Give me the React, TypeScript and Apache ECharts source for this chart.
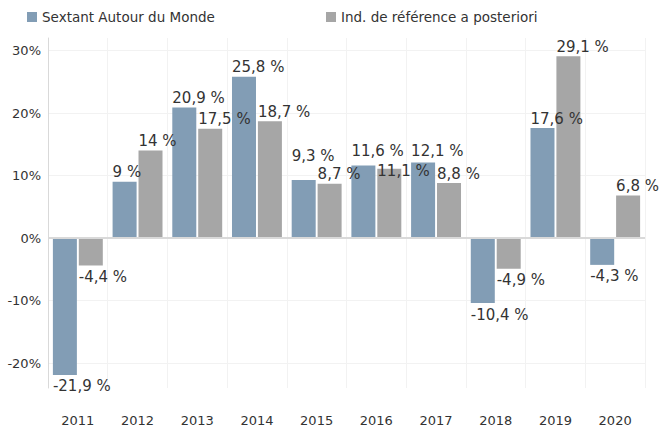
import React, { useEffect, useRef } from "react";
import * as echarts from "echarts";

const categories = ["2011", "2012", "2013", "2014", "2015", "2016", "2017", "2018", "2019", "2020"];
const sextant = [-21.9, 9, 20.9, 25.8, 9.3, 11.6, 12.1, -10.4, 17.6, -4.3];
const reference = [-4.4, 14, 17.5, 18.7, 8.7, 11.1, 8.8, -4.9, 29.1, 6.8];
const seriesNames = ["Sextant Autour du Monde", "Ind. de référence a posteriori"];
const colors = ["#829db5", "#a6a6a6"];

// label collision nudges (vertical, px), as in the reference
const sextantLabelNudge = [0, 0, 0, 0, -14, -5, -2, 0, 0, 0];
const referenceLabelNudge = [0, 0, 0, 0, 0, 12, 0, 0, 0, 0];

const FONT = "DejaVu Sans";

function fmt(v: number) {
  return String(v).replace(".", ",") + " %";
}

function makeData(values: number[], nudge: number[]) {
  return values.map((v, i) => ({
    value: v,
    label:
      v >= 0
        ? { position: [0, -2], offset: [0, nudge[i]], align: "left", verticalAlign: "bottom" }
        : { position: [0, "100%"], offset: [0, 4 + nudge[i]], align: "left", verticalAlign: "top" },
  }));
}

export default function App() {
  const ref = useRef<HTMLDivElement>(null);
  useEffect(() => {
    if (!ref.current) return;
    const chart = echarts.init(ref.current, null, { renderer: "svg" });
    const labelCfg = {
      show: true,
      fontFamily: FONT,
      fontSize: 15,
      color: "#333",
      formatter: (p: any) => fmt(p.value),
    };
    const legendText = { fontFamily: FONT, fontSize: 13.5, color: "#333" };
    chart.setOption({
      animation: false,
      textStyle: { fontFamily: FONT },
      legend: [
        {
          data: [seriesNames[0]],
          left: 27,
          top: 10,
          padding: 0,
          itemWidth: 10,
          itemHeight: 10,
          icon: "rect",
          textStyle: legendText,
        },
        {
          data: [seriesNames[1]],
          left: 326,
          top: 10,
          padding: 0,
          itemWidth: 10,
          itemHeight: 10,
          icon: "rect",
          textStyle: legendText,
        },
      ],
      grid: { left: 48, right: 14, top: 38, bottom: 39, containLabel: false },
      xAxis: {
        type: "category",
        data: categories,
        axisLine: { show: false, onZero: false },
        axisTick: { show: false },
        axisLabel: { margin: 26, fontFamily: FONT, fontSize: 13, color: "#333" },
        splitLine: { show: true, lineStyle: { color: "#f2f2f2", width: 1 } },
      },
      yAxis: {
        type: "value",
        min: -24,
        max: 32,
        splitNumber: 5,
        axisLine: { show: true, lineStyle: { color: "#d9d9d9", width: 1 } },
        axisTick: { show: false },
        axisLabel: {
          showMinLabel: false,
          showMaxLabel: false,
          margin: 7,
          fontFamily: FONT,
          fontSize: 13,
          color: "#333",
          formatter: (v: number) => v + "%",
        },
        splitLine: { show: true, showMinLine: false, showMaxLine: false, lineStyle: { color: "#f2f2f2", width: 1 } },
      },
      series: [
        {
          name: seriesNames[0],
          type: "bar",
          data: makeData(sextant, sextantLabelNudge),
          itemStyle: { color: colors[0] },
          barWidth: 24,
          barGap: "8%",
          label: labelCfg,
          markLine: {
            silent: true,
            symbol: "none",
            label: { show: false },
            lineStyle: { color: "#d9d9d9", type: "solid", width: 2 },
            data: [{ yAxis: 0 }],
          },
        },
        {
          name: seriesNames[1],
          type: "bar",
          data: makeData(reference, referenceLabelNudge),
          itemStyle: { color: colors[1] },
          barWidth: 24,
          barGap: "8%",
          label: labelCfg,
        },
      ],
    });
    return () => chart.dispose();
  }, []);
  return <div ref={ref} style={{ width: 659, height: 427, position: "absolute", left: 0, top: 0 }} />;
}
